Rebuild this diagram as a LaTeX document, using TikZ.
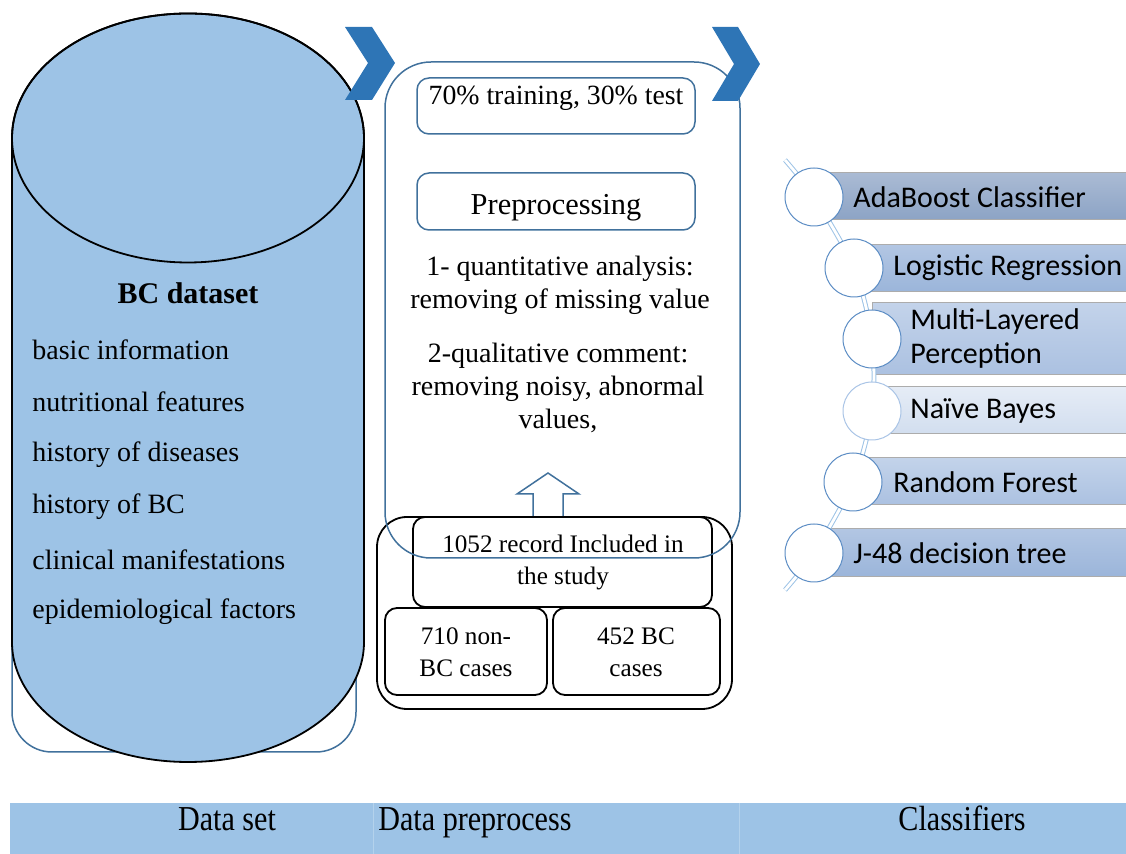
\documentclass[tikz,border=0pt]{standalone}
\usepackage{fontspec}
\usepackage{graphicx}
\setmainfont{Liberation Serif}
\newfontfamily\calibfont{Carlito}
\definecolor{cylfill}{HTML}{9DC3E6}
\definecolor{chev}{HTML}{2E75B6}
\definecolor{bline}{HTML}{41719C}
\definecolor{cborder}{HTML}{5B8CC4}
\definecolor{cborderlt}{HTML}{A9C4E6}
\definecolor{sepline}{HTML}{B4D2EC}
\definecolor{baraT}{HTML}{AABBD4}
\definecolor{baraB}{HTML}{8CA3C5}
\definecolor{barbT}{HTML}{B2C6E3}
\definecolor{barbB}{HTML}{9BB5DA}
\definecolor{barcT}{HTML}{C3D3EA}
\definecolor{barcB}{HTML}{ABC1E1}
\definecolor{bardT}{HTML}{E5ECF6}
\definecolor{bardB}{HTML}{D2DEEF}
\tikzset{
  blueline/.style={draw=bline, line width=0.75pt},
  blkbox/.style={draw=black, line width=0.9pt, rounded corners=6pt},
  bluebox/.style={draw=bline, line width=0.75pt, rounded corners=6pt},
  chevron/.style={fill=chev},
  circ/.style={circle, draw=cborder, line width=0.5pt, fill=white, minimum size=29pt, inner sep=0pt},
  dline/.style={draw=cylfill, line width=0.5pt, double=white, double distance=1.4pt},
  bar/.style={draw=gray!65, line width=0.5pt},
  clab/.style={anchor=west, font=\calibfont\fontsize{15}{17}\selectfont, inner sep=0pt, align=left},
  ltxt/.style={anchor=west, font=\fontsize{14}{16}\selectfont, inner sep=0pt},
  mtxt/.style={align=center, font=\fontsize{14}{16.5}\selectfont, inner sep=0pt},
  btxt/.style={font=\fontsize{17.5}{19}\selectfont, inner sep=0pt, anchor=base},
}
\begin{document}
\begin{tikzpicture}[x=0.5pt,y=-0.5pt]
\useasboundingbox (0,0) rectangle (1126,854);
% left background rounded rectangle
\draw[blueline, fill=white, rounded corners=20pt] (12,200) rectangle (356,752);
% cylinder
\filldraw[fill=cylfill, draw=black, line width=0.9pt]
  (12,138) -- (12,642) arc[start angle=180, end angle=360, x radius=88pt, y radius=60pt]
  -- (364,138) arc[start angle=0, end angle=180, x radius=88pt, y radius=62.25pt] -- cycle;
\draw[black, line width=0.9pt] (188,138) ellipse [x radius=88pt, y radius=62.25pt];
\node[font=\bfseries\fontsize{15}{17}\selectfont, inner sep=0pt] (bct) at (188,293) {BC dataset};
\node[ltxt] (l1) at (32,350) {basic information};
\node[ltxt] (l2) at (32,402) {nutritional features};
\node[ltxt] (l3) at (32,455) {history of diseases};
\node[ltxt] (l4) at (32,507) {history of BC};
\node[ltxt] (l5) at (32,560) {clinical manifestations};
\node[ltxt] (l6) at (32,612) {epidemiological factors};
% chevron 1
\fill[chevron] (345,27) -- (372,27) -- (395,63) -- (372,100) -- (345,100) -- (368,63) -- cycle;
% middle inner boxes
\draw[bluebox] (417,78) rectangle (695,134);
\node[font=\fontsize{13.9}{16}\selectfont, inner sep=0pt] (split) at (556,98) {70\% training, 30\% test};
\draw[bluebox] (417,173) rectangle (695,230);
\node[font=\fontsize{15.2}{17}\selectfont, inner sep=0pt] (prep) at (556,208) {Preprocessing};
\node[mtxt] (q1) at (560,285) {1- quantitative analysis:\\removing of missing value};
\node[mtxt] (q2) at (558,388) {2-qualitative comment:\\removing noisy, abnormal\\values,};
% block arrow
\filldraw[fill=white, blueline] (533,517) -- (533,494) -- (517,494) -- (548,473) -- (579,494) -- (563,494) -- (563,517);
% black boxes
\draw[draw=black, line width=0.9pt, rounded corners=15pt] (377,517) rectangle (732,709);
\draw[blkbox] (413,517) rectangle (712,607);
\draw[blkbox] (385,608) rectangle (547,695);
\draw[blkbox] (553,608) rectangle (720,695);
\node[align=center, font=\fontsize{12.6}{16}\selectfont, inner sep=0pt] (rec) at (563,562) {1052 record Included in\\the study};
\node[align=center, font=\fontsize{12.6}{16}\selectfont, inner sep=0pt] (non) at (466,652) {710 non-\\BC cases};
\node[align=center, font=\fontsize{12.6}{16}\selectfont, inner sep=0pt] (bc) at (636,652) {452 BC\\cases};
% middle big rounded rectangle
\draw[blueline, rounded corners=23pt] (385,62) rectangle (740,558);
% chevron 2
\fill[chevron] (712,27) -- (738,27) -- (760,64) -- (738,101) -- (712,101) -- (734,64) -- cycle;
% classifier bars
\shade[bar, top color=baraT, bottom color=baraB] (814,173) rectangle (1130,220);
\shade[bar, top color=barbT, bottom color=barbB] (854,245) rectangle (1130,292);
\shade[bar, top color=barcT, bottom color=barcB] (872,303) rectangle (1130,375);
\shade[bar, top color=bardT, bottom color=bardB] (872,387) rectangle (1130,434);
\shade[bar, top color=barcT, bottom color=barcB] (853,458) rectangle (1130,505);
\shade[bar, top color=barbT, bottom color=barbB] (814,529) rectangle (1130,577);
% connector line and circles
\coordinate (ltop) at (785,160);
\coordinate (lbot) at (785,590);
\coordinate (p1) at (814,197);
\coordinate (p2) at (854,268);
\coordinate (p3) at (872,339);
\coordinate (p4) at (872,411);
\coordinate (p5) at (853,482);
\coordinate (p6) at (814,553);
\draw[dline] plot[smooth, tension=0.5] coordinates {(ltop) (p1) (p2) (p3) (p4) (p5) (p6) (lbot)};
\node[circ] (c1) at (p1) {};
\node[circ] (c2) at (p2) {};
\node[circ] (c3) at (p3) {};
\node[circ, draw=cborderlt] (c4) at (p4) {};
\node[circ] (c5) at (p5) {};
\node[circ] (c6) at (p6) {};
\node[clab] (t1) at (853,197) {AdaBoost Classifier};
\node[clab] (t2) at (893,268) {Logistic Regression};
\node[clab] (t3) at (910,339) {Multi-Layered\\Perception};
\node[clab] (t4) at (910,411) {Naïve Bayes};
\node[clab] (t5) at (893,482) {Random Forest};
\node[clab] (t6) at (853,553) {J-48 decision tree};
% bottom band
\fill[cylfill] (10,803) rectangle (1130,856);
\draw[sepline, line width=0.5pt] (373,803) -- (373,856);
\draw[sepline, line width=0.5pt] (739,803) -- (739,856);
\node[btxt] (b1) at (227,831) {\scalebox{0.86}[1]{Data set}};
\node[btxt, anchor=base west] (b2) at (378,831) {\scalebox{0.86}[1]{Data preprocess}};
\node[btxt] (b3) at (962,831) {\scalebox{0.86}[1]{Classifiers}};
\end{tikzpicture}
\end{document}
